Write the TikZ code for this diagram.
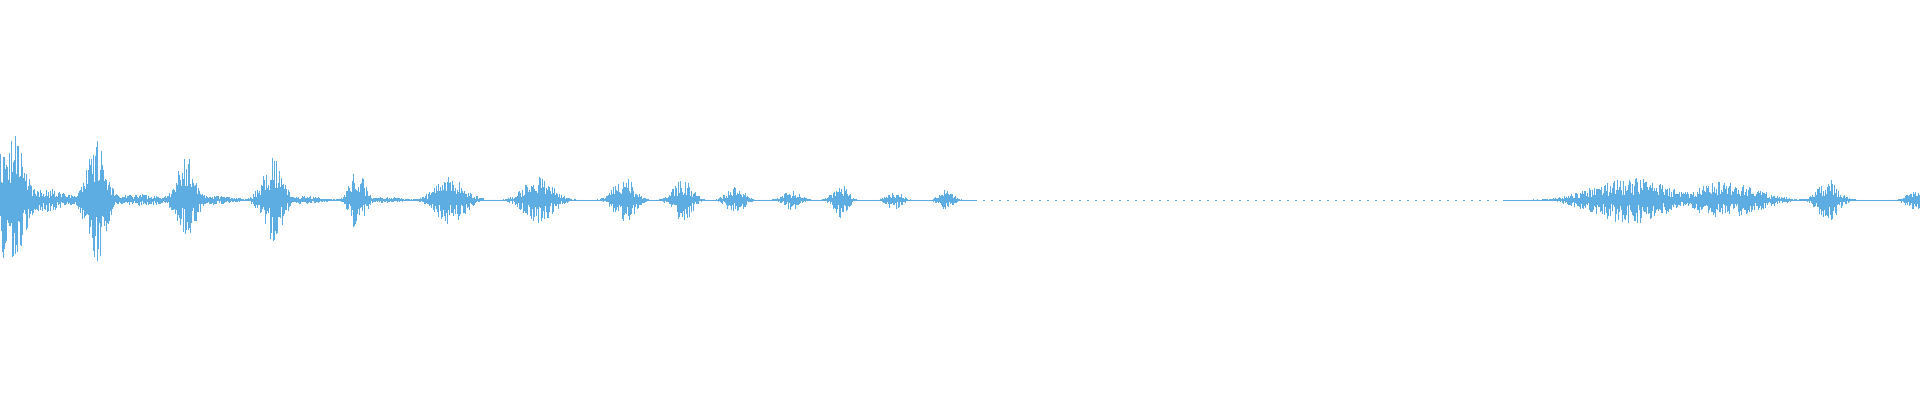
\documentclass[tikz,border=0pt]{standalone}
\definecolor{wave}{RGB}{93,173,226}
\begin{document}
\begin{tikzpicture}[x=1pt,y=1pt,wv/.style={draw=wave,line width=0.45pt}]
\useasboundingbox (0,0) rectangle (1920,400);
\fill[white] (0,0) rectangle (1920,400);
\pgfmathsetseed{7}
\draw[wv] (0,200) -- (975,200);
\draw[wv,dash pattern=on 2pt off 6pt] (975,200) -- (1520,200);
\draw[wv] (1520,200) -- (1920,200);
\foreach \c/\a/\w in {10/70/18,40/12/35,95/64/14,140/6/35,186/44/13,215/5/25,272/42/14,305/4/25,357/32/10,385/3/25,450/25/20,538/24/20,624/24/14,683/22/13,735/15/12,792/10/12,840/18/10,894/10/10,945/10/10,1630/24/50,1725/19/45,1828/22/14,1915/10/12}{
  \pgfmathsetmacro{\xs}{max(0,\c-2.5*\w)}
  \pgfmathsetmacro{\xe}{min(1920,\c+2.5*\w)}
  \pgfmathsetmacro{\xn}{\xs+1}
  \foreach \x in {\xs,\xn,...,\xe}{
    \pgfmathsetmacro{\env}{\a*exp(-((\x-\c)/\w)^2)}
    \pgfmathsetmacro{\up}{\env*(0.2+0.8*rnd)}
    \pgfmathsetmacro{\dn}{\env*(0.2+0.8*rnd)}
    \draw[wv] (\x,200+\up) -- (\x,200-\dn);
  }
}
\end{tikzpicture}
\end{document}
